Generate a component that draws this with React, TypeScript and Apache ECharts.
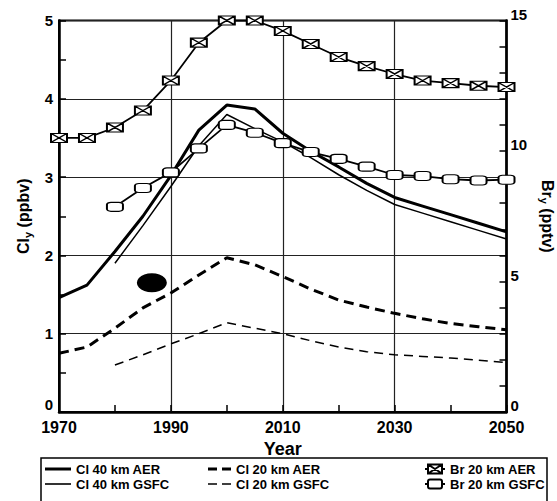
import React, { useEffect, useRef } from 'react';
import * as echarts from 'echarts';

const years = [1970, 1975, 1980, 1985, 1990, 1995, 2000, 2005, 2010, 2015, 2020, 2025, 2030, 2035, 2040, 2045, 2050];
const gsfcYears = [1980, 1985, 1990, 1995, 2000, 2005, 2010, 2015, 2020, 2025, 2030, 2035, 2040, 2045, 2050];

const cl40AER = [1.46, 1.62, 2.05, 2.5, 3.02, 3.6, 3.92, 3.87, 3.56, 3.33, 3.13, 2.92, 2.74, 2.63, 2.52, 2.41, 2.3];
const cl40GSFC = [1.9, 2.38, 2.88, 3.4, 3.8, 3.62, 3.45, 3.25, 3.03, 2.83, 2.65, 2.54, 2.43, 2.32, 2.21];
const cl20AER = [0.75, 0.83, 1.07, 1.33, 1.52, 1.75, 1.97, 1.88, 1.73, 1.57, 1.43, 1.34, 1.26, 1.19, 1.13, 1.09, 1.05];
const cl20GSFC = [0.6, 0.73, 0.87, 1.0, 1.14, 1.07, 1.0, 0.91, 0.83, 0.77, 0.73, 0.71, 0.69, 0.66, 0.63];
const br20AER = [10.5, 10.5, 10.9, 11.55, 12.7, 14.15, 15.0, 15.0, 14.6, 14.1, 13.6, 13.25, 12.95, 12.7, 12.6, 12.5, 12.45];
const br20GSFC = [7.86, 8.58, 9.18, 10.1, 11.0, 10.7, 10.3, 9.96, 9.7, 9.4, 9.08, 9.04, 8.92, 8.87, 8.9];
const blob = [[1986.6, 1.65]];

const seriesNames = ['Cl 40 km AER', 'Cl 40 km GSFC', 'Cl 20 km AER', 'Cl 20 km GSFC', 'Br 20 km AER', 'Br 20 km GSFC'];

const FONT = '"Liberation Sans", Arial, Helvetica, sans-serif';
const crossBox = 'path://M0,0 L16,0 L16,9 L0,9 Z M0,0 L16,9 M0,9 L16,0';

const iconThick = 'path://M0,0 L26,0 L26,3 L0,3 Z';
const iconThin = 'path://M0,0 L26,0 L26,1.6 L0,1.6 Z';
const iconDashThick = 'path://M0,0 L9,0 L9,3 L0,3 Z M14,0 L23,0 L23,3 L14,3 Z';
const iconDashThin = 'path://M0,0 L9,0 L9,1.6 L0,1.6 Z M14,0 L23,0 L23,1.6 L14,1.6 Z';
const iconCross = 'path://M0,4.5 L3,4.5 M3,0 L17,0 L17,9 L3,9 Z M3,0 L17,9 M3,9 L17,0 M17,4.5 L20,4.5';
const iconBox = 'path://M0,4.5 L3,4.5 M5,0 L15,0 Q17,0 17,2 L17,7 Q17,9 15,9 L5,9 Q3,9 3,7 L3,2 Q3,0 5,0 Z M17,4.5 L20,4.5';

const pair = (xs: number[], ys: number[]) => xs.map((x, i) => [x, ys[i]]);

export default function App() {
  const ref = useRef<HTMLDivElement>(null);
  useEffect(() => {
    if (!ref.current) return;
    const chart = echarts.init(ref.current, null, { renderer: 'svg' });
    const legendText = { fontSize: 13, fontWeight: 'bold', color: '#000', fontFamily: FONT, lineHeight: 14 };
    const legendBase = {
      orient: 'vertical', itemHeight: 10, itemGap: 1, padding: 0, textStyle: legendText,
      selectedMode: false, symbolKeepAspect: true,
    };
    const option: any = {
      animation: false,
      backgroundColor: '#fff',
      grid: {
        left: 59, right: 50.5, top: 20.5, bottom: 89,
        show: true, borderColor: '#000', borderWidth: 2, backgroundColor: 'transparent',
        outerBoundsMode: 'none',
      },
      xAxis: [
        {
          type: 'value', min: 1970, max: 2050, interval: 20,
          name: 'Year', nameLocation: 'middle', nameGap: 11,
          nameTextStyle: { fontSize: 18, fontWeight: 'bold', color: '#000', fontFamily: FONT },
          axisLine: { show: true, lineStyle: { color: '#000', width: 2.5 } },
          axisTick: { show: false },
          axisLabel: {
            fontSize: 16, fontWeight: 'bold', color: '#000', fontFamily: FONT, margin: 7,
            formatter: (v: number) => String(v),
          },
          splitLine: { show: true, lineStyle: { color: '#222', width: 1.2 } },
        },
        {
          type: 'value', min: 1970, max: 2050, interval: 10, position: 'bottom',
          axisLine: { show: false },
          axisTick: { show: true, inside: true, length: 7, lineStyle: { color: '#000', width: 1.5 } },
          axisLabel: { show: false },
          splitLine: { show: false },
        },
      ],
      yAxis: [
        {
          type: 'value', min: 0, max: 5, interval: 1, position: 'left',
          name: '{a|Cl}{s|y}{a| (ppbv)}', nameLocation: 'middle', nameGap: 26, nameRotate: 90,
          nameTextStyle: {
            rich: {
              a: { fontSize: 16, fontWeight: 'bold', color: '#000', fontFamily: FONT },
              s: { fontSize: 11, fontWeight: 'bold', color: '#000', fontFamily: FONT, padding: [8, 0, 0, 0] },
            },
          },
          axisLine: { show: true, lineStyle: { color: '#000', width: 2.5 } },
          axisTick: { show: false },
          axisLabel: {
            fontSize: 15, fontWeight: 'bold', color: '#000', fontFamily: FONT, margin: 6,
            verticalAlignMinLabel: 'bottom',
          },
          splitLine: { show: true, lineStyle: { color: '#222', width: 1.2 } },
        },
        {
          type: 'value', min: 0, max: 5, interval: 0.5, position: 'left',
          axisLine: { show: false },
          axisTick: { show: true, inside: true, length: 7, lineStyle: { color: '#000', width: 1.5 } },
          axisLabel: { show: false },
          splitLine: { show: false },
        },
        {
          type: 'value', min: 0, max: 15, interval: 1, position: 'right',
          name: '{a|Br}{s|y}{a| (pptv)}', nameLocation: 'middle', nameGap: 11, nameRotate: -90,
          nameTextStyle: {
            rich: {
              a: { fontSize: 16, fontWeight: 'bold', color: '#000', fontFamily: FONT },
              s: { fontSize: 11, fontWeight: 'bold', color: '#000', fontFamily: FONT, padding: [8, 0, 0, 0] },
            },
          },
          axisLine: { show: true, lineStyle: { color: '#000', width: 2.5 } },
          axisTick: { show: true, inside: true, length: 7, lineStyle: { color: '#000', width: 1.5 } },
          axisLabel: {
            fontSize: 15, fontWeight: 'bold', color: '#000', fontFamily: FONT, margin: 4,
            verticalAlign: 'bottom', lineHeight: 13,
            formatter: (v: number) => (v % 5 === 0 ? String(v) : ''),
          },
          splitLine: { show: false },
        },
      ],
      legend: [
        {
          ...legendBase, left: 45, top: 462, itemWidth: 26,
          data: [{ name: seriesNames[0], icon: iconThick }, { name: seriesNames[1], icon: iconThin }],
        },
        {
          ...legendBase, left: 208, top: 462, itemWidth: 23,
          data: [{ name: seriesNames[2], icon: iconDashThick }, { name: seriesNames[3], icon: iconDashThin }],
        },
        {
          ...legendBase, left: 424, top: 462, itemWidth: 20,
          data: [{ name: seriesNames[4], icon: iconCross }, { name: seriesNames[5], icon: iconBox }],
        },
      ],
      graphic: [
        {
          type: 'rect', shape: { x: 41, y: 458, width: 506, height: 50 },
          style: { fill: 'none', stroke: '#000', lineWidth: 1.5 }, silent: true,
        },
      ],
      series: [
        {
          name: seriesNames[0], type: 'line', data: pair(years, cl40AER), symbol: 'none',
          lineStyle: { color: '#000', width: 3 }, itemStyle: { color: '#000' }, z: 3,
        },
        {
          name: seriesNames[1], type: 'line', data: pair(gsfcYears, cl40GSFC), symbol: 'none',
          lineStyle: { color: '#000', width: 1.5 }, itemStyle: { color: '#000' }, z: 3,
        },
        {
          name: seriesNames[2], type: 'line', data: pair(years, cl20AER), symbol: 'none',
          lineStyle: { color: '#000', width: 3, type: [10, 6] }, itemStyle: { color: '#000' }, z: 3,
        },
        {
          name: seriesNames[3], type: 'line', data: pair(gsfcYears, cl20GSFC), symbol: 'none',
          lineStyle: { color: '#000', width: 1.5, type: [9, 6] }, itemStyle: { color: '#000' }, z: 3,
        },
        {
          name: seriesNames[4], type: 'line', yAxisIndex: 2, data: pair(years, br20AER),
          symbol: crossBox, symbolSize: [16, 9], showAllSymbol: true,
          lineStyle: { color: '#000', width: 1.8 },
          itemStyle: { color: '#fff', borderColor: '#000', borderWidth: 1.5 }, z: 4,
        },
        {
          name: seriesNames[5], type: 'line', yAxisIndex: 2, data: pair(gsfcYears, br20GSFC),
          symbol: 'roundRect', symbolSize: [16, 9], showAllSymbol: true,
          lineStyle: { color: '#000', width: 1.8 },
          itemStyle: { color: '#fff', borderColor: '#000', borderWidth: 1.5 }, z: 4,
        },
        {
          name: 'blob', type: 'scatter', data: blob, symbol: 'circle', symbolSize: [30, 19],
          itemStyle: { color: '#000', opacity: 1 }, silent: true, z: 5,
        },
      ],
    };
    chart.setOption(option);
    return () => chart.dispose();
  }, []);
  return <div ref={ref} style={{ width: 557, height: 501, position: 'absolute', left: 0, top: 0 }} />;
}
